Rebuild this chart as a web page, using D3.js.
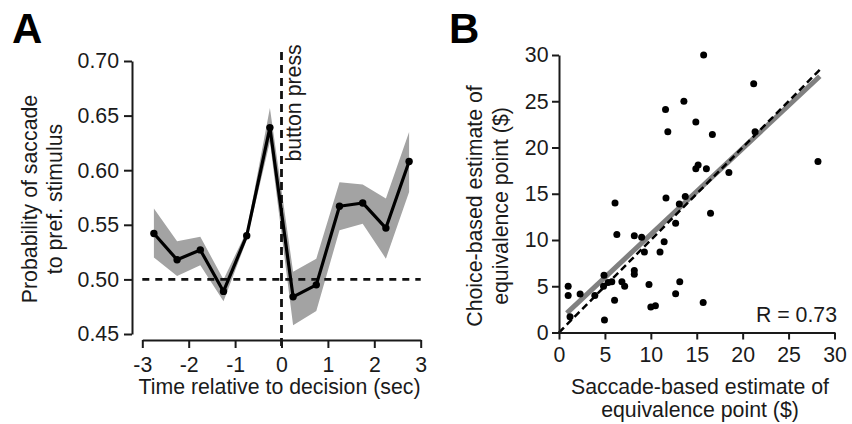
<!DOCTYPE html>
<html>
<head>
<meta charset="utf-8">
<script src="https://cdn.jsdelivr.net/npm/d3@7"></script>
<style>
  html, body { margin: 0; padding: 0; background: #fff; }
  svg { display: block; font-family: "Liberation Sans", Arial, sans-serif; }
</style>
</head>
<body>
<svg id="chart" width="852" height="424"></svg>
<script>
// ---------- Panel A data ----------
const timeX = [-2.75, -2.25, -1.75, -1.25, -0.75, -0.25, 0.25, 0.75, 1.25, 1.75, 2.25, 2.75];
const probMean  = [0.542, 0.518, 0.527, 0.489, 0.540, 0.639, 0.484, 0.495, 0.567, 0.570, 0.547, 0.608];
const probUpper = [0.565, 0.535, 0.539, 0.500, 0.544, 0.657, 0.507, 0.519, 0.589, 0.587, 0.574, 0.635];
const probLower = [0.520, 0.503, 0.513, 0.480, 0.536, 0.626, 0.458, 0.471, 0.545, 0.551, 0.519, 0.580];
const xTicksA = [-3, -2, -1, 0, 1, 2, 3];
const yTicksA = [0.45, 0.50, 0.55, 0.60, 0.65, 0.70];
const chanceLevel = 0.5;
const buttonPressTime = 0;

// ---------- Panel B data ----------
const saccadeEst = [15.75, 21.2, 13.6, 11.6, 14.9, 11.85, 16.7, 21.35, 28.2, 14.9,
                    15.15, 16.05, 18.5, 11.65, 13.75, 13.1, 6.1, 16.5, 12.7, 6.3,
                    8.2, 9.0, 11.45, 9.3, 11.0, 8.2, 8.2, 4.9, 4.85, 5.35,
                    5.75, 6.85, 7.15, 9.8, 13.15, 12.7, 1.0, 1.0, 2.3, 3.9,
                    6.05, 10.0, 10.5, 15.7, 4.95, 1.2];
const choiceEst  = [30.0, 26.9, 25.0, 24.1, 22.75, 21.7, 21.4, 21.7, 18.5, 17.7,
                    18.1, 17.7, 17.3, 14.55, 14.7, 13.9, 14.0, 12.9, 11.8, 10.6,
                    10.45, 10.3, 9.8, 8.7, 8.7, 6.7, 6.3, 6.2, 5.0, 5.4,
                    5.5, 5.5, 5.0, 5.2, 5.5, 4.2, 5.0, 4.0, 4.15, 4.0,
                    3.5, 2.75, 2.9, 3.25, 1.35, 1.7];
const fitX = [0.85, 28.4];
const fitY = [2.1, 27.7];
const identityX = [0, 28.6];
const ticksB = [0, 5, 10, 15, 20, 25, 30];
const rText = "R = 0.73";

const svg = d3.select("#chart");
const FS = 21.3;
const textColor = "#1a1a1a";

function styleAxis(g) {
  g.selectAll("path.domain").attr("stroke", "#1a1a1a").attr("stroke-width", 2);
  g.selectAll(".tick line").attr("stroke", "#1a1a1a").attr("stroke-width", 2);
  g.selectAll(".tick text").attr("fill", textColor).style("font-size", FS + "px")
    .style("font-family", "'Liberation Sans', Arial, sans-serif");
}

// ================= Panel A =================
const xA = d3.scaleLinear().domain([-3, 3]).range([142.3, 420.7]);
const yA = d3.scaleLinear().domain([0.45, 0.70]).range([334, 61]);

// band
const area = d3.area()
  .x((d, i) => xA(timeX[i]))
  .y0((d, i) => yA(probLower[i]))
  .y1((d, i) => yA(probUpper[i]));
svg.append("path").datum(timeX).attr("d", area).attr("fill", "#a3a3a3");

// dashed chance line
svg.append("line")
  .attr("x1", xA(-3)).attr("x2", xA(3))
  .attr("y1", yA(chanceLevel)).attr("y2", yA(chanceLevel))
  .attr("stroke", "#111").attr("stroke-width", 2.8).attr("stroke-dasharray", "7,6");

// dashed button press line
svg.append("line")
  .attr("x1", xA(buttonPressTime)).attr("x2", xA(buttonPressTime))
  .attr("y1", 52).attr("y2", 347)
  .attr("stroke", "#111").attr("stroke-width", 2.8).attr("stroke-dasharray", "8,5");

// mean line
const lineA = d3.line().x((d, i) => xA(timeX[i])).y((d, i) => yA(probMean[i]));
svg.append("path").datum(probMean).attr("d", lineA)
  .attr("fill", "none").attr("stroke", "#000").attr("stroke-width", 3.2)
  .attr("stroke-linejoin", "round");
svg.append("g").selectAll("circle").data(probMean).join("circle")
  .attr("cx", (d, i) => xA(timeX[i])).attr("cy", d => yA(d))
  .attr("r", 3.7).attr("fill", "#000");

// axes A
const gyA = svg.append("g").attr("transform", "translate(132,0)")
  .call(d3.axisLeft(yA).tickValues(yTicksA).tickFormat(d3.format(".2f"))
        .tickSize(8).tickSizeOuter(0).tickPadding(5));
styleAxis(gyA);
const gxA = svg.append("g").attr("transform", "translate(0,340)")
  .call(d3.axisBottom(xA).tickValues(xTicksA).tickFormat(d3.format("d"))
        .tickSize(8).tickSizeOuter(0).tickPadding(9));
styleAxis(gxA);
gxA.selectAll(".tick text").text(d => d < 0 ? "-" + Math.abs(d) : d);

// button press label
svg.append("text")
  .attr("transform", `translate(${xA(buttonPressTime) + 19.5},161.5) rotate(-90)`)
  .attr("fill", textColor).style("font-size", FS + "px").text("button press");

// axis labels A
svg.append("text").attr("x", xA(0) - 2).attr("y", 394).attr("text-anchor", "middle")
  .attr("fill", textColor).style("font-size", FS + "px")
  .text("Time relative to decision (sec)");
const ylabA = svg.append("text").attr("transform", "translate(0,199) rotate(-90)")
  .attr("text-anchor", "middle").attr("fill", textColor).style("font-size", FS + "px");
ylabA.append("tspan").attr("x", 0).attr("y", 37).text("Probability of saccade");
ylabA.append("tspan").attr("x", 0).attr("y", 62).text("to pref. stimulus");

svg.append("text").attr("x", 12).attr("y", 43).style("font-size", "42px")
  .style("font-weight", "bold").attr("fill", "#000").text("A");

// ================= Panel B =================
const xB = d3.scaleLinear().domain([0, 30]).range([559, 834.5]);
const yB = d3.scaleLinear().domain([0, 30]).range([332.5, 55]);

// regression line (gray)
svg.append("line")
  .attr("x1", xB(fitX[0])).attr("y1", yB(fitY[0]))
  .attr("x2", xB(fitX[1])).attr("y2", yB(fitY[1]))
  .attr("stroke", "#808080").attr("stroke-width", 5);

// identity dashed line
svg.append("line")
  .attr("x1", xB(identityX[0])).attr("y1", yB(identityX[0]))
  .attr("x2", xB(identityX[1])).attr("y2", yB(identityX[1]))
  .attr("stroke", "#000").attr("stroke-width", 2.5).attr("stroke-dasharray", "7,4");

// scatter points
svg.append("g").selectAll("circle").data(saccadeEst).join("circle")
  .attr("cx", d => xB(d)).attr("cy", (d, i) => yB(choiceEst[i]))
  .attr("r", 3.5).attr("fill", "#000");

// axes B
const gyB = svg.append("g").attr("transform", "translate(559,0)")
  .call(d3.axisLeft(yB).tickValues(ticksB).tickFormat(d3.format("d"))
        .tickSize(7).tickSizeOuter(0).tickPadding(3.5));
styleAxis(gyB);
const gxB = svg.append("g").attr("transform", "translate(0,332.5)")
  .call(d3.axisBottom(xB).tickValues(ticksB).tickFormat(d3.format("d"))
        .tickSize(7).tickSizeOuter(0).tickPadding(7.3));
styleAxis(gxB);

svg.append("text").attr("x", 837).attr("y", 322).attr("text-anchor", "end")
  .attr("fill", textColor).style("font-size", FS + "px").text(rText);

const xlabB = svg.append("text").attr("text-anchor", "middle").attr("fill", textColor)
  .style("font-size", FS + "px");
xlabB.append("tspan").attr("x", 700).attr("y", 394).text("Saccade-based estimate of");
xlabB.append("tspan").attr("x", 700).attr("y", 417).text("equivalence point ($)");

const ylabB = svg.append("text").attr("transform", "translate(0,206) rotate(-90)")
  .attr("text-anchor", "middle").attr("fill", textColor).style("font-size", FS + "px");
ylabB.append("tspan").attr("x", 0).attr("y", 482).text("Choice-based estimate of");
ylabB.append("tspan").attr("x", 0).attr("y", 508).text("equivalence point ($)");

svg.append("text").attr("x", 449).attr("y", 43).style("font-size", "42px")
  .style("font-weight", "bold").attr("fill", "#000").text("B");
</script>
</body>
</html>
